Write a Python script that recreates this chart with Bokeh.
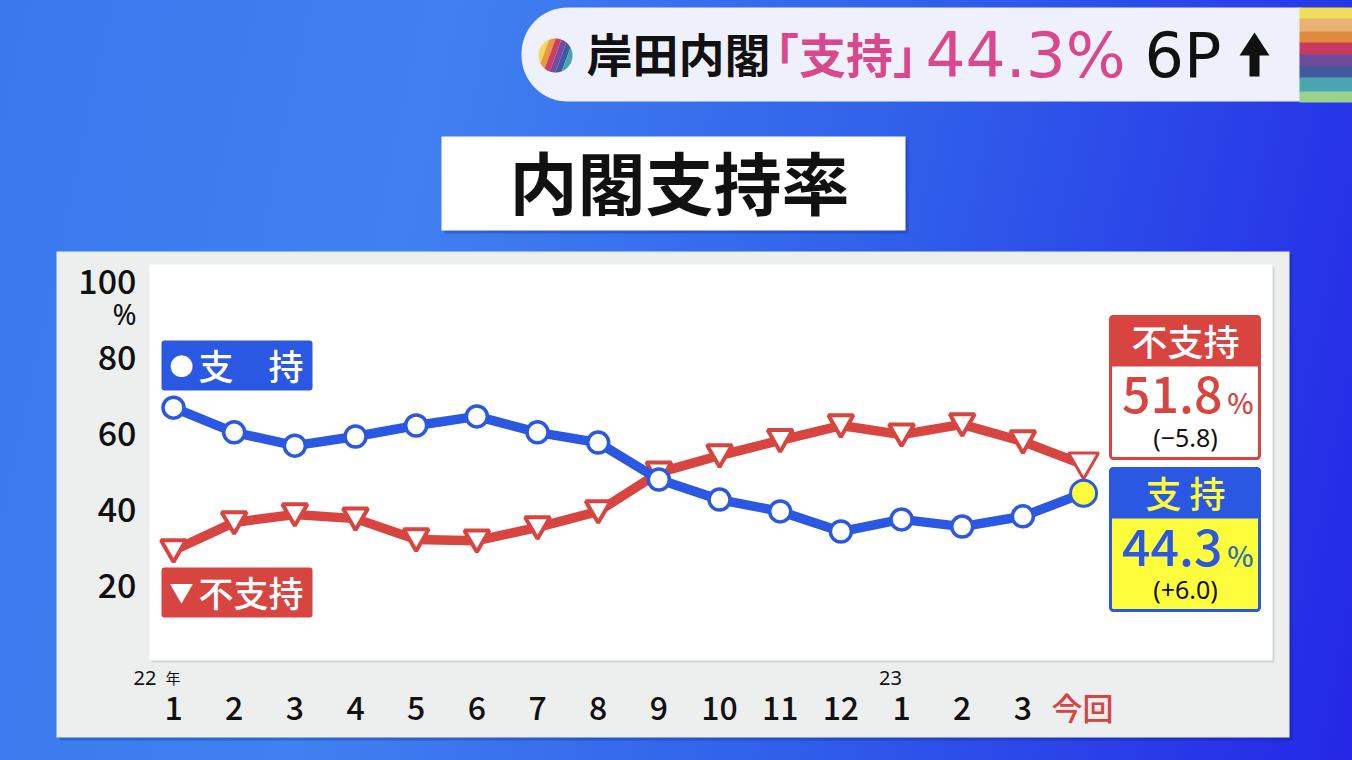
from bokeh.plotting import figure
from bokeh.models import Label, BoxAnnotation, PolyAnnotation, Range1d, FixedTicker
from bokeh.embed import file_html
from bokeh.resources import INLINE
import numpy as np

# ---- data ----
title = "内閣支持率"
month_labels = ["1","2","3","4","5","6","7","8","9","10","11","12","1","2","3"]
last_label = "今回"
x_index = list(range(16))
support = [66.8,60.3,56.8,59.2,62.1,64.5,60.3,57.6,47.9,42.6,39.5,34.2,37.4,35.5,38.2,44.3]
oppose = [29.2,36.6,38.7,37.6,32.1,31.8,35.3,39.5,49.7,54.2,58.2,62.1,59.7,62.4,57.9,51.8]
y_ticks = [20,40,60,80,100]

BLUE = "#2b58e2"; RED = "#d8443f"; YEL = "#fdfd3c"; PINK = "#d8488c"
CJK = "Noto Sans CJK JP"; MED = "Noto Sans CJK JP Medium"; NUM = "Noto Sans"
W, H = 1352, 760
stripes = [("#f1dd5c",8,19),("#e8b274",19,32),("#de8b3e",32,43),("#c93a60",43,55),
           ("#6c4c9b",55,67),("#40599f",67,78),("#4aa5b0",78,92),("#9cd18b",92,102)]

css = ":host{background:linear-gradient(102deg,#3a78ee 0%,#4080f0 30%,#3060ea 62%,#2427e6 100%);}"

p = figure(width=W, height=H, output_backend="svg", toolbar_location=None,
           x_range=Range1d(-173/60.67, (W-173)/60.67), y_range=Range1d((661-H)/3.8, 661/3.8),
           min_border=0, min_border_left=0, min_border_right=0, min_border_top=0, min_border_bottom=0,
           border_fill_alpha=0, background_fill_alpha=0, outline_line_color=None)
p.stylesheets = [css]
p.grid.visible = False
# the triangle marker's visual centre sits below its anchor: draw it through a range moved by 3px
shift = 3/3.8
p.extra_y_ranges = {"tri": Range1d((661-H)/3.8-shift, 661/3.8-shift)}

def box(l,t,r,b,fill,line=None,lw=0,radius=0,level="annotation",alpha=1.0):
    a = BoxAnnotation(left=l-1,right=r-1,top=t-1,bottom=b-1,
                      left_units="canvas",right_units="canvas",top_units="canvas",bottom_units="canvas",
                      fill_color=fill,fill_alpha=alpha,line_color=line,line_width=lw,line_alpha=1 if line else 0,
                      border_radius=radius,level=level,editable=False)
    p.add_layout(a)

def poly(xs,ys,fill,level="annotation"):
    a = PolyAnnotation(xs=list(xs),ys=list(ys),xs_units="canvas",ys_units="canvas",
                       fill_color=fill,fill_alpha=1,line_alpha=0,level=level,editable=False)
    p.add_layout(a)

def text(x,y,s,size,color="#111111",font=CJK,weight="normal",align="center",baseline="middle"):
    if font.startswith("Noto Sans CJK"):
        y = y-0.07*size
    p.add_layout(Label(x=x,y=y,x_units="canvas",y_units="canvas",text=s,text_font=font,
                       text_font_size=f"{size}px",text_font_style=weight,text_color=color,
                       text_align=align,text_baseline=baseline))

# backgrounds
box(60,255,1293,741,"#0a1a60",alpha=0.25,level="underlay")
box(57,252,1290,738,"#edeeee",level="underlay")
box(152,267,1275,663,"#000000",alpha=0.10,level="underlay")
box(150,265,1273,661,"#ffffff",level="underlay")

# axes
ya = p.yaxis[0]
ya.ticker = FixedTicker(ticks=y_ticks)
ya.major_label_overrides = {v:str(v) for v in y_ticks}
ya.axis_line_color=None; ya.major_tick_line_color=None; ya.minor_tick_line_color=None
ya.major_label_text_font=MED; ya.major_label_text_font_size="34px"; ya.major_label_text_color="#111111"
ya.major_label_standoff=-142; ya.major_label_orientation="horizontal"
xa = p.xaxis[0]
xa.ticker = FixedTicker(ticks=x_index[:-1])
xa.major_label_overrides = {i:s for i,s in zip(x_index,month_labels)}
xa.axis_line_color=None; xa.major_tick_line_color=None; xa.minor_tick_line_color=None
xa.major_label_text_font=MED; xa.major_label_text_font_size="32px"; xa.major_label_text_color="#111111"
xa.major_label_standoff=-71

# series
p.line(x_index,oppose,line_color=RED,line_width=9.5,line_join="round")
p.scatter(x_index[:-1],oppose[:-1],marker="inverted_triangle",size=25,fill_color="white",line_color=RED,line_width=4,y_range_name="tri")
p.scatter(x_index[-1:],oppose[-1:],marker="inverted_triangle",size=30,fill_color="white",line_color=RED,line_width=3,y_range_name="tri")
p.line(x_index,support,line_color=BLUE,line_width=9.5,line_join="round")
p.scatter(x_index[:-1],support[:-1],marker="circle",size=21,fill_color="white",line_color=BLUE,line_width=3.5)
p.scatter(x_index[-1:],support[-1:],marker="circle",size=26,fill_color=YEL,line_color=BLUE,line_width=3)

# axis extras
text(136,313,"%",29,font=NUM,align="right")
text(133,677,"22",20,font=NUM,align="left")
text(165,678,"年",15,align="left")
text(890,677,"23",20,font=NUM)
text(1082,708,last_label,31,color=RED,font=MED)

# legends
box(162,341,313,391,BLUE,radius=3)
text(181,366,"●",24,color="white")
text(198,366,"支　持",35,color="white",font=MED,align="left")
box(162,568,313,618,RED,radius=3)
text(181,593,"▼",24,color="white")
text(198,593,"不支持",35,color="white",font=MED,align="left")

# right boxes
box(1111,317,1260,459,"#ffffff",line=RED,lw=3,radius=3)
box(1110,316,1261,367,RED,radius=3)
text(1185,342,"不支持",36,color="white",font=MED)
text(1222,397,"51.8",50,color=RED,font=MED,align="right")
text(1240,403,"%",28,color=RED,font=MED)
text(1185,436,"(−5.8)",25,font=NUM)
box(1111,469,1260,611,YEL,line=BLUE,lw=3,radius=3)
box(1110,468,1261,519,BLUE,radius=3)
text(1185,494,"支 持",36,color=YEL,font=MED)
text(1222,550,"44.3",50,color=BLUE,font=MED,align="right")
text(1240,556,"%",28,color="#2f70a8",font=MED)
text(1185,588,"(+6.0)",25,font=NUM)

# title
box(445,140,909,234,"#0a1a60",alpha=0.25)
box(442,137,906,231,"#ffffff")
text(679,185,title,68,weight="bold")

# header pill
box(522,8,1301,102,"#eef0fb",radius=(46,0,0,46))
for c,a,b in stripes:
    box(1300,a,1353,b+1,c)
# rainbow dot
cols = ["#f2d95c","#e89a3e","#cf3f62","#7a4aa0","#3f5aa5","#45a6ad"]
for i,c in enumerate(cols):
    lo = -1+2*i/len(cols); hi = -1+2*(i+1)/len(cols)
    th = np.linspace(np.arcsin(lo),np.arcsin(hi),12)
    ux = np.concatenate([np.sin(th),np.sin(th[::-1])])
    uy = np.concatenate([np.cos(th),-np.cos(th[::-1])])
    ang = np.radians(20)
    poly(555+17*(ux*np.cos(ang)-uy*np.sin(ang)), 55+17*(ux*np.sin(ang)+uy*np.cos(ang)), c)

text(586,55,"岸田内閣",46,weight="bold",align="left")
text(775,55,"｢支持｣",47,color=PINK,weight="bold",align="left")
text(925,55,"44.3%",63,color=PINK,font="DejaVu Sans",align="left")
text(1144,55,"6P",62,font="DejaVu Sans",align="left")
poly([1254,1269,1259,1259,1249,1249,1239],[32,55,55,76,76,55,55],"#111111")

open("out.html","w").write(file_html(p, INLINE))
